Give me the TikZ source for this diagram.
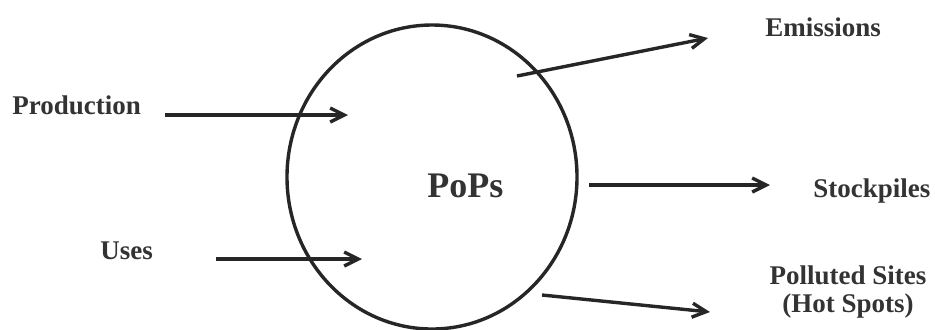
\documentclass[tikz,border=0pt]{standalone}
\usepackage{fontspec}
\setmainfont{Liberation Serif}
\usetikzlibrary{arrows.meta,shapes.geometric}

\begin{document}
\begin{tikzpicture}[x=0.5pt, y=-0.5pt, >={Straight Barb[length=7pt,width=7pt]}]
        \tikzset{term/.style={font=\fontsize{13.5}{14}\selectfont\bfseries, text=black!80, inner sep=0pt, anchor=base west},
                 flow/.style={->, line width=1.7pt, draw=black!85}}
        \useasboundingbox (0,0) rectangle (935,329);
        \node[draw=black!85, ellipse, line width=1.7pt, minimum width=145pt, minimum height=152pt, inner sep=0pt] (pool) at (432,177) {};
        \node[term, font=\fontsize{18}{20}\selectfont\bfseries] (pops) at (427,197) {PoPs};
        \node[term] (production) at (12,114) {Production};
        \node[term] (uses) at (100,259) {Uses};
        \node[term] (emissions) at (765,36) {Emissions};
        \node[term] (stockpiles) at (813,197) {Stockpiles};
        \node[term, anchor=center, align=center] (sites) at (848,292) {Polluted Sites\\(Hot Spots)};
        % arrow ends
        \coordinate (prodfrom) at (165,115);
        \coordinate (prodto) at (348,115);
        \coordinate (usesfrom) at (216,259);
        \coordinate (usesto) at (362,259);
        \coordinate (emisfrom) at (517,76);
        \coordinate (emisto) at (708,38);
        \coordinate (stockfrom) at (589,185);
        \coordinate (stockto) at (770,185);
        \coordinate (sitesfrom) at (542,295);
        \coordinate (sitesto) at (710,312);
        \draw[flow] (prodfrom) -- (prodto);
        \draw[flow] (usesfrom) -- (usesto);
        \draw[flow] (emisfrom) -- (emisto);
        \draw[flow] (stockfrom) -- (stockto);
        \draw[flow] (sitesfrom) -- (sitesto);
\end{tikzpicture}
\end{document}
